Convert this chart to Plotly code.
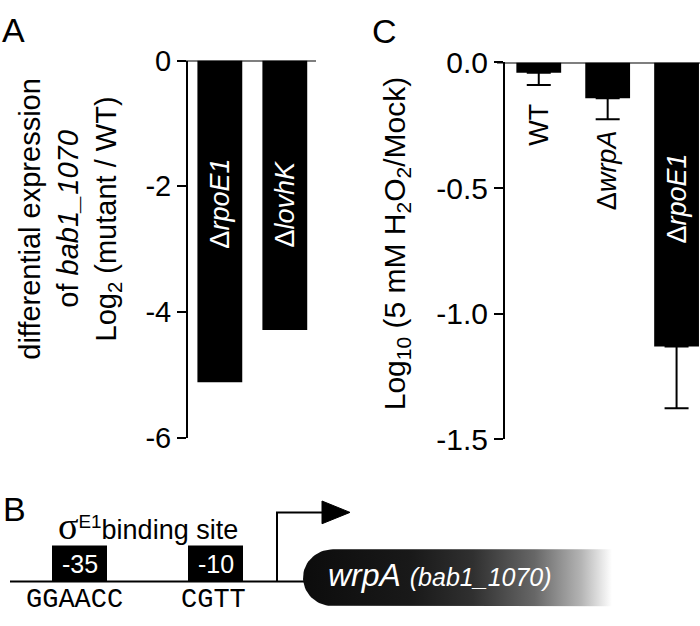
import numpy as np
import plotly.graph_objects as go

W, H = 700, 626
FONT = "Liberation Sans"

# ---------------- data ----------------
# Panel A: differential expression of bab1_1070, Log2 (mutant / WT)
A_CATS = ["ΔrpoE1", "ΔlovhK"]
A_LABELS = ["Δ<i>rpoE1</i>", "Δ<i>lovhK</i>"]
A_VALUES = [-5.12, -4.29]
A_TICKVALS = [0, -2, -4, -6]
A_TICKTEXT = ["0", "-2", "-4", "-6"]

# Panel C: Log10 (5 mM H2O2 / Mock)
C_CATS = ["WT", "ΔwrpA", "ΔrpoE1"]
C_LABELS = ["WT", "Δ<i>wrpA</i>", "Δ<i>rpoE1</i>"]
C_VALUES = [-0.041, -0.143, -1.13]
C_ERR = [0.049, 0.083, 0.246]
C_TICKVALS = [0, -0.5, -1.0, -1.5]
C_TICKTEXT = ["0.0", "-0.5", "-1.0", "-1.5"]

# Panel B: promoter schematic texts
B_BOXES = ["-35", "-10"]
B_SEQS = ["GGAACC", "CGTT"]
B_GENE = "wrpA"
B_LOCUS = "(bab1_1070)"


def px(x):
    return x / W


def py(y):
    return 1 - y / H


fig = go.Figure()

fig.add_trace(go.Bar(
    x=A_CATS, y=A_VALUES, width=0.69,
    marker=dict(color="black", line=dict(width=0)),
    xaxis="x", yaxis="y", hoverinfo="skip",
))

fig.add_trace(go.Bar(
    x=C_CATS, y=C_VALUES, width=0.65,
    marker=dict(color="black", line=dict(width=0)),
    error_y=dict(type="data", symmetric=False, array=[0] * len(C_ERR),
                 arrayminus=C_ERR, color="black", thickness=2, width=12),
    xaxis="x2", yaxis="y2", hoverinfo="skip",
))

# gene body (schematic) with rounded left end and fading right end
gx0, gx1, gy0, gy1 = 303, 612, 563, 623
r = (gy1 - gy0) / 2
cx = gx0 + r
theta = np.linspace(np.pi / 2, 3 * np.pi / 2, 40)
arc_x = list(cx + r * np.cos(theta))
arc_y = list((gy0 + r) - r * np.sin(theta))
shape_x = [cx, gx1, gx1, cx] + arc_x[::-1]
shape_y = [gy0, gy0, gy1, gy1] + arc_y[::-1]
fig.add_trace(go.Scatter(
    x=shape_x, y=shape_y, mode="lines", fill="toself",
    line=dict(width=0, color="rgba(0,0,0,0)"),
    fillgradient=dict(type="horizontal",
                      colorscale=[[0, "#0c0c0c"], [0.35, "#191919"],
                                  [0.55, "#303030"], [0.75, "#676767"],
                                  [0.9, "#b4b4b4"], [1, "#ffffff"]]),
    xaxis="x3", yaxis="y3", hoverinfo="skip",
))

axis_common = dict(showgrid=False, zeroline=False, fixedrange=True)

fig.update_layout(
    width=W, height=H,
    margin=dict(l=0, r=0, t=0, b=0, pad=0),
    paper_bgcolor="white", plot_bgcolor="rgba(0,0,0,0)",
    showlegend=False,
    font=dict(family=FONT, color="black", size=26),
    xaxis=dict(domain=[px(188), px(316)], range=[-0.49, 1.48],
               showticklabels=False, ticks="", showline=False,
               anchor="y", **axis_common),
    yaxis=dict(domain=[py(445), py(47)], range=[-6, 0],
               tickvals=A_TICKVALS, ticktext=A_TICKTEXT,
               ticks="outside", ticklen=9, tickwidth=2, tickcolor="black",
               showline=True, linewidth=2, linecolor="black",
               tickfont=dict(size=29, family=FONT), anchor="x",
               **axis_common),
    xaxis2=dict(domain=[px(505), 1.0], range=[-0.49, 2.34],
                showticklabels=False, ticks="", showline=False,
                anchor="y2", **axis_common),
    yaxis2=dict(domain=[py(447), py(49)], range=[-1.5, 0],
                tickvals=C_TICKVALS, ticktext=C_TICKTEXT,
                ticks="outside", ticklen=9, tickwidth=2, tickcolor="black",
                showline=True, linewidth=2, linecolor="black",
                tickfont=dict(size=30, family=FONT), anchor="x2",
                **axis_common),
    xaxis3=dict(domain=[0, 1], range=[0, W], visible=False, anchor="y3",
                **axis_common),
    yaxis3=dict(domain=[0, 1], range=[H, 0], visible=False, anchor="x3",
                **axis_common),
)

shapes = [
    # top baselines (y = 0) extending slightly left of the y axes
    dict(type="line", xref="x domain", yref="y", x0=-7 / 128, x1=1,
         y0=0, y1=0, line=dict(color="black", width=2)),
    dict(type="line", xref="x2 domain", yref="y2", x0=-8 / 195, x1=1,
         y0=0, y1=0, line=dict(color="black", width=2)),
    # schematic: DNA line
    dict(type="line", xref="x3", yref="y3", x0=10, x1=312, y0=597, y1=597,
         line=dict(color="black", width=2), layer="below"),
    # -35 / -10 boxes
    dict(type="rect", xref="x3", yref="y3", x0=52, x1=107, y0=559, y1=597,
         fillcolor="black", line=dict(width=0)),
    dict(type="rect", xref="x3", yref="y3", x0=188, x1=243, y0=559, y1=597,
         fillcolor="black", line=dict(width=0)),
    # transcription start arrow
    dict(type="path", xref="x3", yref="y3",
         path="M 277 597 L 277 524 L 326 524",
         line=dict(color="black", width=2)),
    dict(type="path", xref="x3", yref="y3",
         path="M 322 512 L 350 524 L 322 536 Z",
         fillcolor="black", line=dict(color="black", width=1)),
]
fig.update_layout(shapes=shapes)

ann = []
# panel letters
for letter, (lx, ly) in zip(["A", "C", "B"], [(13, 15), (384, 16), (14, 520)]):
    ann.append(dict(text=letter, xref="paper", yref="paper", x=px(lx), y=py(ly),
                    showarrow=False, xanchor="center", yanchor="middle",
                    font=dict(size=34, family=FONT)))

# panel A y title
ann.append(dict(
    text="differential expression<br>of <i>bab1_1070</i><br>Log<sub>2</sub> (mutant / WT)",
    xref="paper", yref="paper", x=px(70), y=py(214), textangle=-90,
    showarrow=False, xanchor="center", yanchor="middle",
    font=dict(size=29, family=FONT)))

# panel C y title
ann.append(dict(
    text="Log<sub>10</sub> (5 mM H<sub>2</sub>O<sub>2</sub>/Mock)",
    xref="paper", yref="paper", x=px(396), y=py(241), textangle=-90,
    showarrow=False, xanchor="center", yanchor="middle",
    font=dict(size=30, family=FONT)))

# bar labels, panel A (white inside bars)
A_LABEL_Y = [-2.28, -2.28]
for cat, lab, yv in zip(A_CATS, A_LABELS, A_LABEL_Y):
    ann.append(dict(text=lab, xref="x", yref="y", x=cat, y=yv, textangle=-90,
                    showarrow=False, xanchor="center", yanchor="middle",
                    font=dict(size=27, color="white", family=FONT)))

# bar labels, panel C
C_LABEL_Y = [-0.249, -0.43, -0.543]
C_LABEL_COL = ["black", "black", "white"]
for cat, lab, yv, col in zip(C_CATS, C_LABELS, C_LABEL_Y, C_LABEL_COL):
    ann.append(dict(text=lab, xref="x2", yref="y2", x=cat, y=yv, textangle=-90,
                    showarrow=False, xanchor="center", yanchor="middle",
                    font=dict(size=27, color=col, family=FONT)))

# schematic texts
ann.append(dict(
    text="<span style='font-family:Liberation Serif;font-size:38px'>σ</span><sup>E1</sup>binding site",
    xref="x3", yref="y3", x=56, y=538, showarrow=False,
    xanchor="left", yanchor="middle", font=dict(size=27, family=FONT)))
for t, bx in zip(B_BOXES, [79.5, 215.5]):
    ann.append(dict(text=t, xref="x3", yref="y3", x=bx, y=579, showarrow=False,
                    xanchor="center", yanchor="middle",
                    font=dict(size=25, color="white", family=FONT)))
for t, sx in zip(B_SEQS, [74, 213]):
    ann.append(dict(text=t, xref="x3", yref="y3", x=sx, y=616, showarrow=False,
                    xanchor="center", yanchor="middle",
                    font=dict(size=27, family="Liberation Mono")))
ann.append(dict(
    text=f"<i>{B_GENE}</i> <i><span style='font-size:25px'>{B_LOCUS}</span></i>",
    xref="x3", yref="y3", x=326, y=590, showarrow=False,
    xanchor="left", yanchor="middle",
    font=dict(size=32, color="white", family=FONT)))

fig.update_layout(annotations=ann)

fig.write_html("out.html",
               config={"displayModeBar": False},
               post_script="document.body.style.margin='0px';"
                           "document.body.style.overflow='hidden';")
